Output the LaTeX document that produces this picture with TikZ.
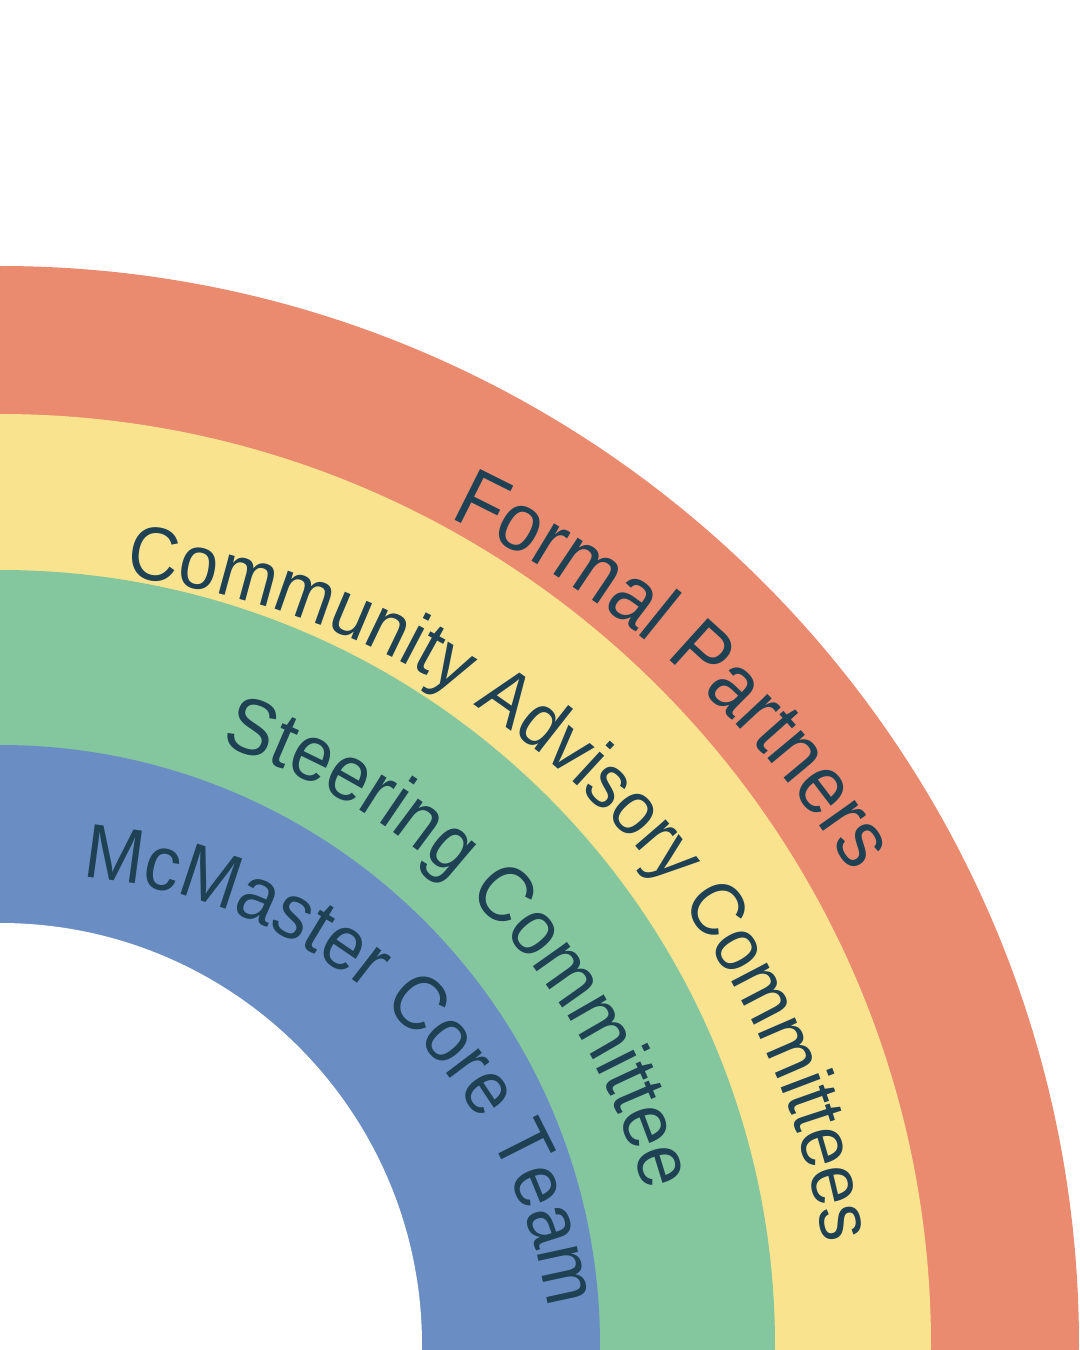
\documentclass[tikz,border=0pt]{standalone}
\usepackage{fontspec}
\setmainfont{Liberation Sans}[FakeStretch=0.92]
\usetikzlibrary{decorations.text}

\definecolor{partnerred}{HTML}{EA8A6F}
\definecolor{advisoryyellow}{HTML}{FAE38E}
\definecolor{steeringgreen}{HTML}{84C69D}
\definecolor{coreblue}{HTML}{6A8EC4}
\definecolor{ink}{HTML}{1E4154}

\begin{document}
\begin{tikzpicture}[x=0.01cm,y=0.01cm,
	bandtext/.style={decorate,decoration={text along path,text align=left}}]
	\useasboundingbox (0,0) rectangle (1080,1350);
	\clip (0,0) rectangle (1080,1350);
	\fill[white] (0,0) rectangle (1080,1350);
	\coordinate (hub) at (0,5);
	% the labels bend round centres of their own
	\coordinate (partnerhub) at (40.6,-35.6);
	\coordinate (advisoryhub) at (30.7,-25.7);
	\coordinate (steeringhub) at (17.4,-12.4);
	\coordinate (corehub) at (42.9,-37.9);

	% bands, outside in
	\fill[partnerred] (hub) circle (1079);
	\fill[advisoryyellow] (hub) circle (931);
	\fill[steeringgreen] (hub) circle (775);
	\fill[coreblue] (hub) circle (600);
	\fill[white] (hub) circle (422);

	% labels along the bands
	\path[bandtext,decoration={text={|\fontsize{23.5}{26}\selectfont\color{ink}|Formal Partners}}]
	([shift={(64.8:959.7)}]partnerhub) arc[start angle=64.8,end angle=-10,radius=959.7];
	\path[bandtext,decoration={text={|\fontsize{21.65}{24}\selectfont\color{ink}|Community Advisory Committees}}]
	([shift={(83.2:804)}]advisoryhub) arc[start angle=83.2,end angle=-10,radius=804];
	\path[bandtext,decoration={text={|\fontsize{22.45}{24}\selectfont\color{ink}|Steering Committee}}]
	([shift={(71.8:650)}]steeringhub) arc[start angle=71.8,end angle=-10,radius=650];
	\path[bandtext,decoration={text={|\fontsize{21.9}{24}\selectfont\color{ink}|McMaster Core Team}}]
	([shift={(85.6:512)}]corehub) arc[start angle=85.6,end angle=-10,radius=512];
\end{tikzpicture}
\end{document}
